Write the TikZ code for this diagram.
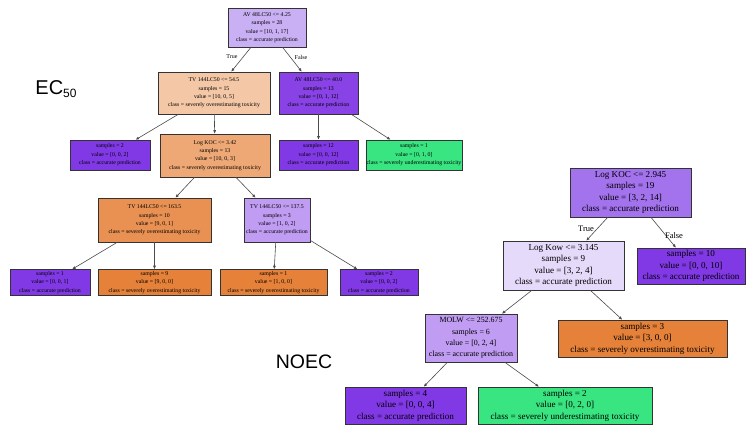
\documentclass[tikz,border=0pt]{standalone}
\usepackage{fontspec}
\setmainfont{Liberation Serif}
\newfontfamily\labfont{Liberation Sans}
\usetikzlibrary{arrows.meta}
\definecolor{cpur}{HTML}{8139E5}
\definecolor{cora}{HTML}{E58139}
\definecolor{cgrn}{HTML}{39E581}
\definecolor{edgecol}{HTML}{4A4A4A}
\tikzset{
  tbox/.style={draw=black!80, line width=0.5pt, rectangle, align=center, inner sep=0.5pt},
  ecf/.style={font=\fontsize{5.8}{8.4}\selectfont},
  nof/.style={font=\fontsize{9.1}{11.4}\selectfont},
  nofs/.style={font=\fontsize{7.9}{11.4}\selectfont},
  sz/.style 2 args={minimum width=#1pt, minimum height=#2pt},
  conn/.style={draw=edgecol, line width=0.6pt, -{Latex[length=3.5pt,width=3pt]}},
  tf/.style={font=\fontsize{6}{7}\selectfont, inner sep=0.5pt},
  tfn/.style={font=\fontsize{8.5}{9}\selectfont, inner sep=0.5pt},
}
\begin{document}
\begin{tikzpicture}[x=1pt,y=-1pt]
\useasboundingbox (0,0) rectangle (748,427);
% ---------------- EC50 tree ----------------
\node[tbox, ecf, sz={78}{39}, fill={rgb,255:red,201;green,176;blue,244}] (r0) at (267,27.5)
  {AV 48LC50 <= 4.25\\samples = 28\\value = [10, 1, 17]\\class = accurate prediction};
\node[tbox, ecf, sz={112}{42}, fill={rgb,255:red,244;green,200;blue,166}] (l1) at (214,93)
  {TV 144LC50 <= 54.5\\samples = 15\\value = [10, 0, 5]\\class = severely overestimating toxicity};
\node[tbox, ecf, sz={79}{42}, fill={rgb,255:red,136;green,66;blue,230}] (r1) at (318.5,93)
  {AV 48LC50 <= 40.0\\samples = 13\\value = [0, 1, 12]\\class = accurate prediction};
\node[tbox, ecf, sz={80}{30}, fill=cpur] (a) at (110,155)
  {samples = 2\\value = [0, 0, 2]\\class = accurate prediction};
\node[tbox, ecf, sz={110}{43}, fill={rgb,255:red,238;green,168;blue,118}] (b) at (215,155.5)
  {Log KOC <= 3.42\\samples = 13\\value = [10, 0, 3]\\class = severely overestimating toxicity};
\node[tbox, ecf, sz={79}{30}, fill=cpur] (c) at (318.5,155)
  {samples = 12\\value = [0, 0, 12]\\class = accurate prediction};
\node[tbox, ecf, sz={94}{30}, fill=cgrn] (d) at (414,155)
  {samples = 1\\value = [0, 1, 0]\\class = severely underestimating toxicity};
\node[tbox, ecf, sz={113}{44}, fill={rgb,255:red,232;green,145;blue,82}] (e) at (154.5,220)
  {TV 144LC50 <= 163.5\\samples = 10\\value = [9, 0, 1]\\class = severely overestimating toxicity};
\node[tbox, ecf, sz={66}{44}, fill={rgb,255:red,192;green,156;blue,242}] (f) at (277,220)
  {TV 144LC50 <= 137.5\\samples = 3\\value = [1, 0, 2]\\class = accurate prediction};
\node[tbox, ecf, sz={80}{26}, fill=cpur] (g1) at (50,282.5)
  {samples = 1\\value = [0, 0, 1]\\class = accurate prediction};
\node[tbox, ecf, sz={113}{26}, fill=cora] (g2) at (154.5,282.5)
  {samples = 9\\value = [9, 0, 0]\\class = severely overestimating toxicity};
\node[tbox, ecf, sz={107}{26}, fill=cora] (g3) at (273.5,282.5)
  {samples = 1\\value = [1, 0, 0]\\class = severely overestimating toxicity};
\node[tbox, ecf, sz={78}{26}, fill=cpur] (g4) at (379,282.5)
  {samples = 2\\value = [0, 0, 2]\\class = accurate prediction};
\draw[conn] (r0) -- (l1);
\draw[conn] (r0) -- (r1);
\draw[conn] (l1) -- (a);
\draw[conn] (l1) -- (b);
\draw[conn] (r1) -- (c);
\draw[conn] (r1) -- (d);
\draw[conn] (b) -- (e);
\draw[conn] (b) -- (f);
\draw[conn] (e) -- (g1);
\draw[conn] (e) -- (g2);
\draw[conn] (f) -- (g3);
\draw[conn] (f) -- (g4);
\node[tf] (t1) at (232,57) {True};
\node[tf] (f1) at (301,57) {False};
\node[font=\labfont\fontsize{20}{22}\selectfont, inner sep=0pt] (ec) at (56,89) {EC\raisebox{-0.35ex}{\fontsize{12}{12}\selectfont 50}};
% ---------------- NOEC tree ----------------
\node[tbox, nof, sz={121}{49}, fill={rgb,255:red,163;green,114;blue,237}] (n0) at (630.5,192.5)
  {Log KOC <= 2.945\\samples = 19\\value = [3, 2, 14]\\class = accurate prediction};
\node[tbox, nof, sz={121}{49}, fill={rgb,255:red,230;green,218;blue,250}] (n1) at (563.5,265.5)
  {Log Kow <= 3.145\\samples = 9\\value = [3, 2, 4]\\class = accurate prediction};
\node[tbox, nof, sz={108}{36}, fill=cpur] (n2) at (691,266)
  {samples = 10\\value = [0, 0, 10]\\class = accurate prediction};
\node[tbox, nofs, sz={92}{48}, fill={rgb,255:red,192;green,156;blue,242}] (n3) at (471,338)
  {MOLW <= 252.675\\samples = 6\\value = [0, 2, 4]\\class = accurate prediction};
\node[tbox, nof, sz={169}{37}, fill=cora] (n4) at (642.5,338.5)
  {samples = 3\\value = [3, 0, 0]\\class = severely overestimating toxicity};
\node[tbox, nof, sz={121}{37}, fill=cpur] (n5) at (405.5,405.5)
  {samples = 4\\value = [0, 0, 4]\\class = accurate prediction};
\node[tbox, nof, sz={174}{37}, fill=cgrn] (n6) at (565,405.5)
  {samples = 2\\value = [0, 2, 0]\\class = severely underestimating toxicity};
\draw[conn] (n0) -- (n1);
\draw[conn] (n0) -- (n2);
\draw[conn] (n1) -- (n3);
\draw[conn] (n1) -- (n4);
\draw[conn] (n3) -- (n5);
\draw[conn] (n3) -- (n6);
\node[tfn] (t2) at (586,229) {True};
\node[tfn] (f2) at (674,236) {False};
\node[font=\labfont\fontsize{19.5}{22}\selectfont, inner sep=0pt] (noec) at (304,362) {NOEC};
\end{tikzpicture}
\end{document}
